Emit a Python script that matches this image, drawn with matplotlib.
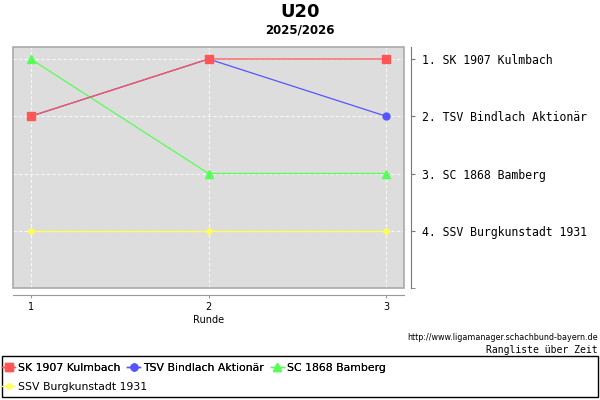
import matplotlib
matplotlib.use("Agg")
import matplotlib.pyplot as plt
from matplotlib.lines import Line2D
from matplotlib.patches import Rectangle

# Daten: Rang je Runde
runden = [1, 2, 3]
teams = ["SK 1907 Kulmbach", "TSV Bindlach Aktionär", "SC 1868 Bamberg", "SSV Burgkunstadt 1931"]
rang_kulmbach = [2, 1, 1]
rang_bindlach = [2, 1, 2]
rang_bamberg = [1, 3, 3]
rang_burgkunstadt = [4, 4, 4]
end_labels = ["1. SK 1907 Kulmbach", "2. TSV Bindlach Aktionär", "3. SC 1868 Bamberg", "4. SSV Burgkunstadt 1931"]

farben = ["#ff5555", "#5555ff", "#55ff55", "#ffff55"]
marker = ["s", "o", "^", "D"]
groessen = [5.5, 5, 5.5, 3.2]
reihen = [rang_kulmbach, rang_bindlach, rang_bamberg, rang_burgkunstadt]
zorders = [5, 4, 3, 2]

W, H = 600, 400
fig = plt.figure(figsize=(6, 4), dpi=100)
fig.patch.set_facecolor("white")

# Achse in Pixelkoordinaten platzieren
x0, x1, y0, y1 = 13, 404, 47, 288
ax = fig.add_axes([x0 / W, 1 - y1 / H, (x1 - x0) / W, (y1 - y0) / H])
ax.set_facecolor("#dddddd")

for werte, f, m, g, z in zip(reihen, farben, marker, groessen, zorders):
    ax.plot(runden, werte, color=f, marker=m, markersize=g,
            linewidth=0.9, zorder=z, clip_on=False)

ax.set_xlim(0.9, 3.1)
ax.set_ylim(5.0, 0.79)
ax.set_xticks(runden)
ax.set_xticklabels([str(r) for r in runden])
ax.set_yticks([1, 2, 3, 4])
ax.set_yticks([5.0], minor=True)
ax.yaxis.tick_right()
ax.set_yticklabels(end_labels)
ax.tick_params(axis="y", which="both", length=3, color="#777777", pad=5,
               labelsize=8.3, labelfontfamily="DejaVu Sans Mono")
ax.tick_params(axis="x", length=2, color="#999999", pad=3, labelsize=7)
ax.set_xlabel("Runde", fontsize=7, labelpad=2)

ax.grid(True, color="white", linestyle=(0, (3, 2)), linewidth=0.8, alpha=0.8)
ax.set_axisbelow(True)

# Rahmen + abgesetzte Achsen
for s in ["top", "left"]:
    ax.spines[s].set_visible(False)
ax.spines["bottom"].set_position(("outward", 5))
ax.spines["right"].set_position(("outward", 5))
ax.spines["bottom"].set_color("#999999")
ax.spines["right"].set_color("#777777")
ax.add_patch(Rectangle((0, 0), 1, 1, transform=ax.transAxes, fill=False,
                       edgecolor="#aaaaaa", linewidth=1.2, zorder=10, clip_on=False))

# Titel
fig.text(0.5, 1 - 12 / H, "U20", ha="center", va="center", fontsize=13, fontweight="bold")
fig.text(0.5, 1 - 30 / H, "2025/2026", ha="center", va="center", fontsize=8.5, fontweight="bold")

# Quelle
fig.text(598 / W, 1 - 338 / H, "http://www.ligamanager.schachbund-bayern.de",
         ha="right", va="center", fontsize=5.8)
fig.text(598 / W, 1 - 350 / H, "Rangliste über Zeit", ha="right", va="center",
         fontsize=7, family="DejaVu Sans Mono")

# Legende mit Rahmen
fig.patches.append(Rectangle((2 / W, 1 - 397 / H), 596 / W, 41 / H, transform=fig.transFigure,
                             fill=False, edgecolor="black", linewidth=1))

handles = [Line2D([], [], color=f, marker=m, markersize=g, linewidth=1)
           for f, m, g in zip(farben, marker, groessen)]
leg1 = fig.legend(handles[:3], teams[:3], loc="center left", bbox_to_anchor=(0, 1 - 368 / H),
                  ncol=3, frameon=False, fontsize=7.8, handlelength=1.2, handletextpad=0.3,
                  columnspacing=0.6, borderaxespad=0, borderpad=0.2)
fig.add_artist(leg1)
fig.legend(handles[3:], teams[3:], loc="center left", bbox_to_anchor=(0, 1 - 387 / H),
           frameon=False, fontsize=7.8, handlelength=1.2, handletextpad=0.3,
           borderaxespad=0, borderpad=0.2)

fig.savefig("out.png", dpi=100)
